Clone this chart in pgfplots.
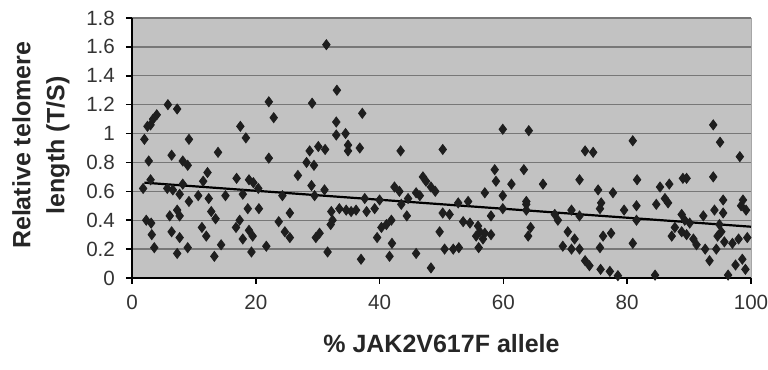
\documentclass[border=0pt]{standalone}
\usepackage{fontspec}
\setmainfont{Liberation Sans}
\usepackage{pgfplots}
\pgfplotsset{compat=1.18}
\definecolor{plotbg}{HTML}{C2C2C2}
\definecolor{gridc}{HTML}{777777}
\definecolor{markc}{HTML}{1E1E1E}
\begin{document}
\begin{tikzpicture}
\path[use as bounding box] (-66pt,-46pt) rectangle (318pt,139pt);
\begin{axis}[
  scale only axis,
  width=309.5pt, height=130pt,
  xmin=0, xmax=100, ymin=0, ymax=1.8,
  xtick={0,20,...,100},
  ytick={0,0.2,...,1.8},
  axis lines=left,
  axis line style={-, black, line width=0.8pt},
  axis background/.style={fill=plotbg, draw=gray!70},
  ymajorgrids,
  major grid style={gridc, line width=0.7pt},
  tick align=outside,
  tick style={black, line width=0.8pt},
  major tick length=3pt,
  /pgf/number format/assume math mode=true,
  yticklabel style={/pgf/number format/fixed, /pgf/number format/precision=1, xshift=-2pt},
  xticklabel style={yshift=-2pt},
  ticklabel style={font=\fontsize{10.3}{12}\selectfont, text=black!80},
  xlabel={\% JAK2V617F allele},
  ylabel={Relative telomere\\length (T/S)},
  xlabel style={at={(axis description cs:0.5,-0.215)}, anchor=north, inner sep=0pt,
    font=\bfseries\fontsize{12.5}{15}\selectfont, text=black!85},
  ylabel style={at={(axis description cs:-0.1,0.51)}, anchor=south, inner sep=0pt,
    align=center, font=\bfseries\fontsize{12.5}{17}\selectfont, text=black!85},
  clip=false,
]
\addplot[only marks, mark=diamond*, mark size=2.5pt, mark options={fill=markc, draw=markc}] coordinates {
(5.8,1.20)(7.3,1.17)(4.0,1.13)(3.4,1.10)(3.0,1.06)(2.5,1.05)(2.0,0.96)(9.2,0.96)
(6.4,0.85)(13.9,0.87)(2.7,0.81)(8.2,0.81)(9.0,0.78)(12.2,0.73)(3.0,0.68)(1.8,0.62)
(5.7,0.62)(6.6,0.61)(8.2,0.65)(11.5,0.67)(7.7,0.58)(9.2,0.53)(10.7,0.57)(12.4,0.55)
(15.1,0.57)(7.3,0.47)(6.1,0.43)(7.7,0.43)(2.3,0.40)(3.1,0.38)(12.8,0.46)(13.5,0.41)
(3.2,0.30)(3.6,0.21)(6.4,0.32)(7.7,0.28)(11.3,0.35)(12.0,0.29)(7.3,0.17)(9.0,0.21)
(14.4,0.23)(13.3,0.15)
(31.4,1.615)(33.1,1.30)(22.1,1.22)(29.1,1.21)(22.9,1.11)(33.0,1.08)(17.5,1.05)(18.4,0.97)
(33.0,0.99)(22.1,0.83)(28.7,0.88)(30.1,0.91)(31.2,0.89)(28.2,0.80)(29.4,0.78)(26.8,0.71)
(16.9,0.69)(18.9,0.68)(19.6,0.66)(20.4,0.62)(17.9,0.58)(29.0,0.64)(31.1,0.61)(24.3,0.57)
(29.5,0.57)(18.7,0.48)(20.5,0.48)(25.5,0.45)(32.2,0.46)(33.5,0.48)(17.4,0.40)(23.7,0.39)
(32.4,0.40)(32.1,0.37)(16.8,0.35)(18.9,0.33)(24.7,0.32)(19.5,0.29)(25.5,0.28)(30.3,0.31)
(29.7,0.28)(17.9,0.27)(19.3,0.18)(21.7,0.22)(31.6,0.18)
(37.2,1.14)(34.5,1.00)(34.9,0.92)(34.9,0.88)(36.8,0.90)(43.4,0.88)(50.2,0.89)(47.0,0.70)
(47.5,0.67)(48.3,0.63)(49.0,0.60)(42.4,0.63)(43.2,0.60)(44.6,0.55)(45.9,0.59)(46.5,0.57)
(37.6,0.55)(40.0,0.54)(34.6,0.47)(35.4,0.46)(36.2,0.47)(37.9,0.46)(39.2,0.48)(43.5,0.51)
(44.4,0.43)(50.2,0.45)(41.9,0.40)(41.1,0.37)(40.3,0.35)(39.6,0.28)(49.7,0.32)(42.0,0.24)
(50.5,0.20)(37.0,0.13)(41.6,0.15)(45.9,0.17)(48.3,0.07)
(59.9,1.03)(64.1,1.02)(58.6,0.75)(63.3,0.75)(58.8,0.67)(61.3,0.65)(66.4,0.65)(57.0,0.59)
(59.9,0.57)(63.7,0.53)(63.7,0.51)(59.9,0.48)(63.7,0.47)(52.7,0.52)(54.3,0.53)(51.3,0.44)
(58.0,0.43)(53.5,0.39)(54.6,0.38)(55.9,0.36)(56.2,0.32)(57.0,0.31)(58.0,0.30)(55.6,0.29)
(56.7,0.27)(64.4,0.35)(64.0,0.29)(56.0,0.21)(51.9,0.20)(52.8,0.21)
(80.9,0.95)(73.2,0.88)(74.5,0.87)(72.3,0.68)(81.6,0.68)(75.3,0.61)(77.7,0.59)(75.8,0.52)
(75.6,0.48)(79.5,0.47)(81.5,0.50)(71.0,0.47)(68.3,0.44)(68.8,0.40)(72.3,0.43)(81.5,0.40)
(76.1,0.29)(77.4,0.31)(70.4,0.32)(71.5,0.27)(69.6,0.22)(71.0,0.20)(72.3,0.20)(75.6,0.21)
(80.9,0.24)(73.2,0.12)(73.9,0.085)(75.7,0.06)(77.2,0.046)(78.5,0.016)
(93.9,1.06)(95.0,0.94)(98.2,0.84)(89.0,0.69)(89.6,0.69)(93.9,0.70)(85.3,0.63)(86.8,0.65)
(86.1,0.55)(84.7,0.51)(86.6,0.52)(95.5,0.54)(98.7,0.54)(98.4,0.50)(99.2,0.47)(94.1,0.47)
(92.3,0.43)(95.5,0.45)(88.8,0.44)(89.3,0.40)(90.1,0.38)(87.7,0.35)(88.8,0.32)(89.6,0.30)
(87.2,0.29)(90.7,0.27)(94.9,0.37)(95.2,0.32)(94.6,0.29)(95.7,0.25)(91.2,0.23)(92.6,0.20)
(94.4,0.20)(97.0,0.24)(98.0,0.27)(99.4,0.28)(93.3,0.12)(97.5,0.09)(98.6,0.13)(99.1,0.06)
(96.3,0.02)(84.5,0.02)
};
\addplot[black, line width=1.1pt] coordinates {(2,0.66)(100,0.355)};
\end{axis}
\end{tikzpicture}
\end{document}
